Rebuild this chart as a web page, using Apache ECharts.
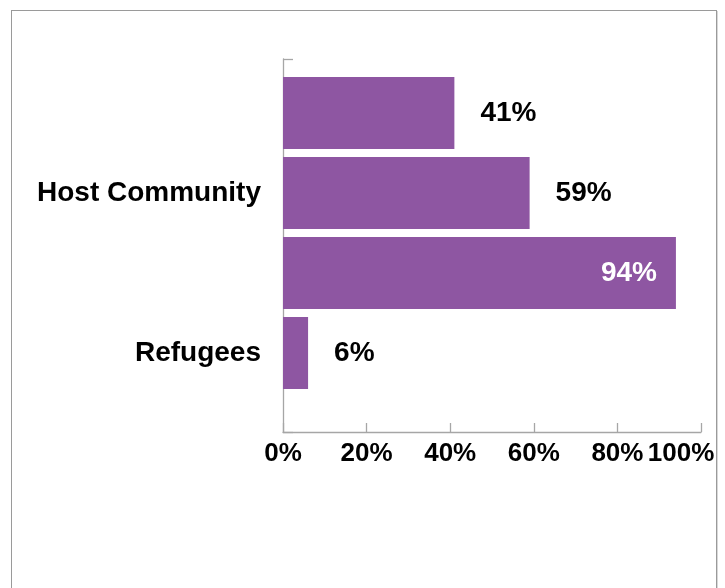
<!DOCTYPE html>
<html>
<head>
<meta charset="utf-8">
<script src="https://cdn.jsdelivr.net/npm/echarts@6/dist/echarts.min.js"></script>
<style>
  html, body { margin: 0; padding: 0; background: #fff; }
  #chart { position: absolute; left: 0; top: 0; width: 725px; height: 588px; }
  #frame { position: absolute; left: 11px; top: 10px; width: 704px; height: 600px;
           border: 1px solid #9a9a9a; box-shadow: 1px 1px 0 #d8d8d8; pointer-events: none; }
</style>
</head>
<body>
<div id="chart"></div>
<div id="frame"></div>
<script>
// Data
const rowLabels = ['', 'Host Community', '', 'Refugees'];
const values = [41, 59, 94, 6];
const xTicks = [0, 20, 40, 60, 80, 100];

const FONT = 'Liberation Sans';
const labelStyle = { fontFamily: FONT, fontWeight: 'bold', fontSize: 28, color: '#000' };
const tickStyle = { fontFamily: FONT, fontWeight: 'bold', fontSize: 26, color: '#000' };

const chart = echarts.init(document.getElementById('chart'), null, { renderer: 'canvas' });

const seriesData = values.map(v => v > 80
  ? { value: v, label: { position: 'insideRight', color: '#fff', distance: 19 } }
  : { value: v });

chart.setOption({
  animation: false,
  backgroundColor: '#fff',
  grid: [
    { left: 283, top: 59, width: 418, height: 373, containLabel: false },
    { left: 283, top: 73, width: 418, height: 320, containLabel: false }
  ],
  xAxis: [
    {
      gridIndex: 0, type: 'value', min: xTicks[0], max: xTicks[xTicks.length - 1], interval: 20,
      axisLine: { show: true, lineStyle: { color: '#a6a6a6', width: 1.3 } },
      axisTick: { show: true, inside: true, length: 9, lineStyle: { color: '#a6a6a6', width: 1.3 } },
      splitLine: { show: false },
      axisLabel: {
        ...tickStyle, margin: 9,
        formatter: function (v) { return v === 100 ? '{m|' + v + '%}' : v + '%'; },
        rich: { m: { ...tickStyle, padding: [0, 40, 0, 0] } }
      }
    },
    { gridIndex: 1, type: 'value', min: 0, max: 100, show: false }
  ],
  yAxis: [
    {
      gridIndex: 0, type: 'category', data: [''],
      axisLine: { show: true, lineStyle: { color: '#a6a6a6', width: 1.3 } },
      axisTick: { show: true, inside: true, length: 10, lineStyle: { color: '#a6a6a6', width: 1.3 } },
      axisLabel: { show: false }
    },
    {
      gridIndex: 1, type: 'category', inverse: true, data: rowLabels,
      axisLine: { show: false }, axisTick: { show: false },
      axisLabel: { ...labelStyle, margin: 22 }
    }
  ],
  series: [{
    type: 'bar', xAxisIndex: 1, yAxisIndex: 1,
    data: seriesData,
    barWidth: 72,
    itemStyle: { color: '#8E56A2' },
    label: { show: true, position: 'right', distance: 26, formatter: '{c}%', ...labelStyle }
  }]
});
</script>
</body>
</html>
